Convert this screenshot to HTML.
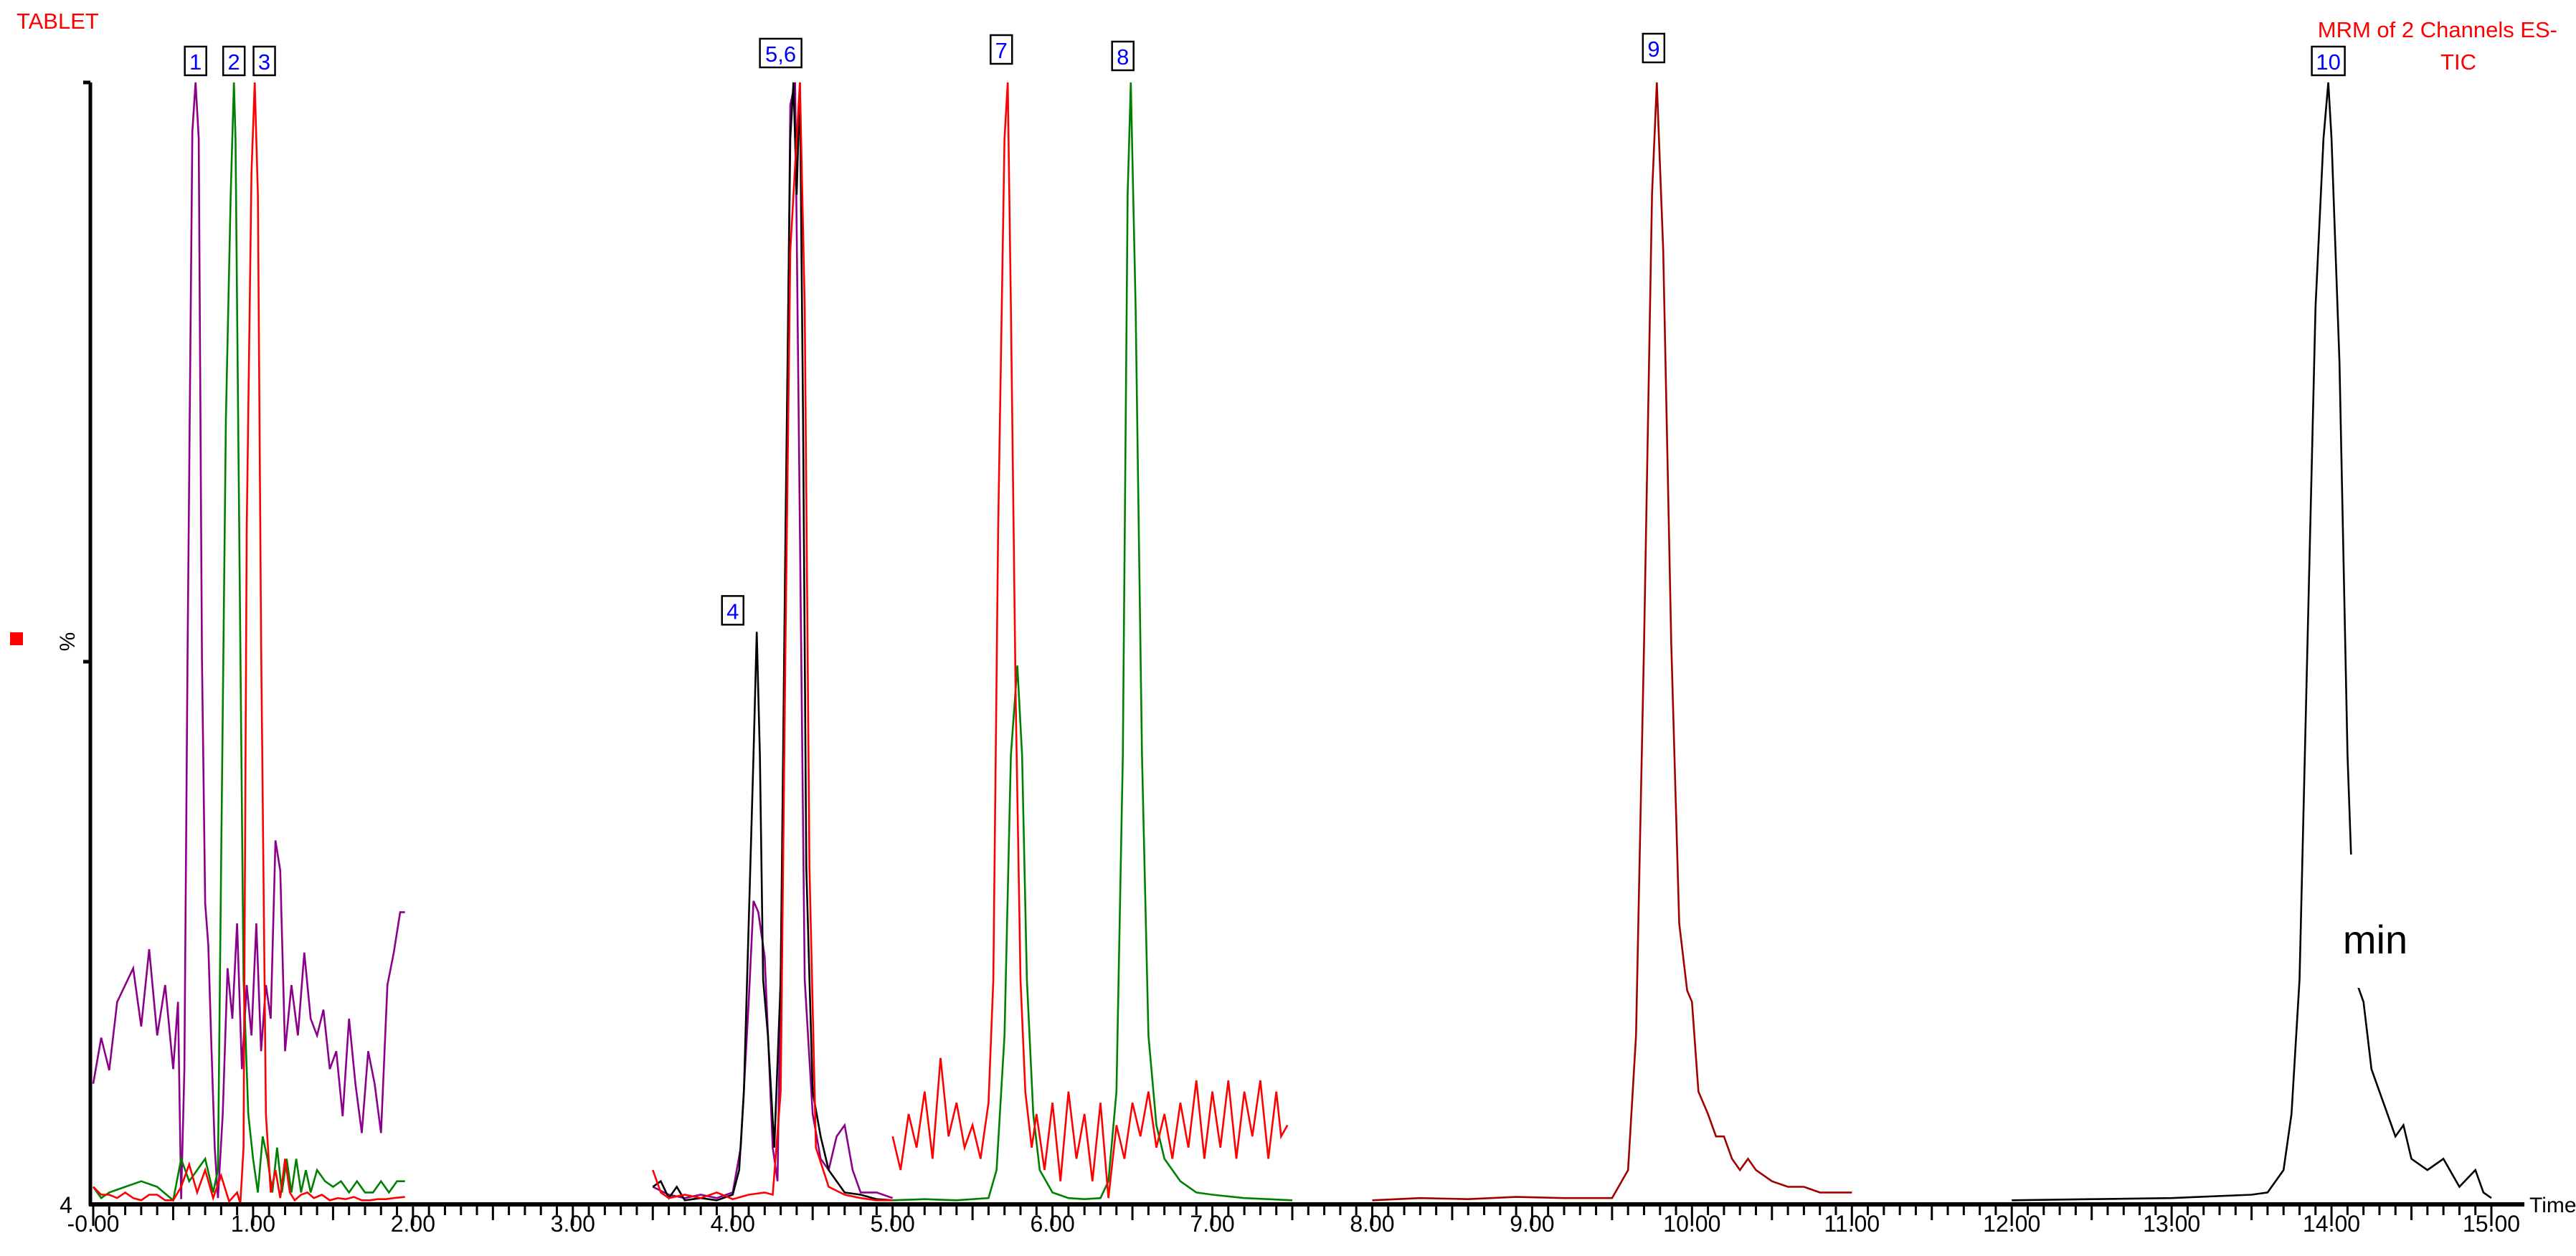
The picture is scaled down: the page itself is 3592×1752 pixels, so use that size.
<!DOCTYPE html>
<html><head><meta charset="utf-8">
<style>
html,body{margin:0;padding:0;background:#fff;}
svg{display:block;font-family:"Liberation Sans",sans-serif;}
</style></head>
<body>
<svg id="chart" width="3592" height="1752" viewBox="0 0 3592 1752">
<text x="23" y="40" font-size="31" fill="#ff0000">TABLET</text>
<text x="3566" y="52" font-size="31" fill="#ff0000" text-anchor="end">MRM of 2 Channels ES-</text>
<text x="3428" y="97" font-size="31" fill="#ff0000" text-anchor="middle">TIC</text>
<rect x="14" y="882" width="18" height="18" fill="#ff0000"/>
<text x="0" y="0" font-size="30" fill="#000" text-anchor="middle" transform="translate(104,895) rotate(-90)">%</text>
<text x="92" y="1692" font-size="32" fill="#000" text-anchor="middle">4</text>
<text x="3527" y="1691" font-size="30" fill="#000">Time</text>
<g id="series"></g>
<g id="axes"></g>
<g id="labels"></g>
<rect x="3214" y="1192" width="90" height="186" fill="#fff"/>
<text x="3312" y="1330" font-size="56" fill="#000" text-anchor="middle">min</text>
</svg>
<script>
// ---- data ----
const purpleA_t=[0.00,0.05,0.10,0.15,0.20,0.25,0.30,0.35,0.40,0.45,0.50,0.53,0.55,0.57,0.59,0.62,0.64,0.66,0.68,0.70,0.72,0.74,0.76,0.78,0.81,0.84,0.87,0.90,0.93,0.96,0.99,1.02,1.05,1.08,1.11,1.14,1.17,1.20,1.24,1.28,1.32,1.36,1.40,1.44,1.48,1.52,1.56,1.60,1.64,1.68,1.72,1.76,1.80,1.84,1.88,1.92,1.95];
const purpleA_v=[10.7,14.8,11.9,18,19.5,21,15.8,22.7,15,19.5,12,18,0.4,12,48.7,95.6,100,95,48.7,26.8,23,13.6,5,0.5,8,21,16.5,25,12,19.5,15,25,13.6,19.5,16.5,32.4,29.7,13.6,19.5,15,22.4,16.5,15,17.3,12,13.6,7.8,16.5,10.7,6.3,13.6,10.7,6.3,19.5,22.4,26,26];
const greenA_t=[0,0.05,0.1,0.2,0.3,0.4,0.5,0.55,0.6,0.65,0.7,0.75,0.78,0.8,0.83,0.86,0.88,0.89,0.90,0.92,0.94,0.97,1.0,1.03,1.06,1.09,1.12,1.15,1.18,1.21,1.24,1.27,1.3,1.33,1.36,1.4,1.45,1.5,1.55,1.6,1.65,1.7,1.75,1.8,1.85,1.9,1.95];
const greenA_v=[1.5,0.5,1,1.5,2,1.5,0.3,4,2,3,4,1,3,30,70,90,100,95,80,50,20,8,4,1,6,4,1,5,1,4,1,4,1,3,1,3,2,1.5,2,1,2,1,1,2,1,2,2];
const redA_t=[0,0.05,0.1,0.15,0.2,0.25,0.3,0.35,0.4,0.45,0.5,0.55,0.6,0.65,0.7,0.75,0.8,0.85,0.9,0.92,0.94,0.96,0.99,1.01,1.03,1.05,1.08,1.11,1.14,1.17,1.20,1.23,1.26,1.30,1.34,1.38,1.43,1.48,1.53,1.58,1.63,1.68,1.73,1.78,1.83,1.88,1.95];
const redA_v=[1.5,0.8,0.8,0.5,1,0.5,0.3,0.8,0.8,0.3,0.3,1.5,3.5,1,3,0.5,2.5,0.2,1,0,5,60,92,100,90,50,8,1,3,0.5,4,1,0.3,0.8,1,0.5,0.8,0.3,0.5,0.4,0.6,0.3,0.3,0.4,0.4,0.5,0.6];
const blackB_t=[3.5,3.55,3.6,3.65,3.7,3.8,3.9,4.0,4.04,4.07,4.10,4.13,4.15,4.17,4.19,4.22,4.26,4.3,4.33,4.36,4.38,4.4,4.42,4.44,4.46,4.5,4.55,4.6,4.65,4.7,4.8,4.9,5.0];
const blackB_v=[1.5,2,0.5,1.5,0.3,0.5,0.3,0.8,3,10,25,40,51,40,20,15,5,20,60,95,100,90,100,70,30,10,6,3,2,1,0.8,0.4,0.3];
const purpleB_t=[3.5,3.6,3.7,3.8,3.9,4.0,4.05,4.1,4.13,4.16,4.2,4.25,4.28,4.32,4.36,4.39,4.42,4.45,4.5,4.55,4.6,4.65,4.7,4.75,4.8,4.9,5.0];
const purpleB_v=[1.5,0.8,0.5,0.8,0.5,1,5,18,27,26,22,5,2,40,98,100,60,20,8,4,3,6,7,3,1,1,0.5];
const redB_t=[3.5,3.55,3.6,3.7,3.8,3.9,4.0,4.1,4.2,4.25,4.3,4.33,4.36,4.4,4.42,4.45,4.48,4.52,4.6,4.7,4.8,4.9,5.0];
const redB_v=[3,1,0.5,0.8,0.5,1,0.4,0.8,1,0.8,10,50,85,95,100,80,30,5,1.5,0.8,0.5,0.3,0.3];
const redC_t=[5.00,5.05,5.10,5.15,5.20,5.25,5.30,5.35,5.40,5.45,5.50,5.55,5.60,5.63,5.66,5.70,5.72,5.74,5.77,5.80,5.83,5.87,5.90,5.95,6.00,6.05,6.10,6.15,6.20,6.25,6.30,6.35,6.40,6.45,6.50,6.55,6.60,6.65,6.70,6.75,6.80,6.85,6.90,6.95,7.00,7.05,7.10,7.15,7.20,7.25,7.30,7.35,7.40,7.43,7.47];
const redC_v=[6,3,8,5,10,4,13,6,9,5,7,4,9,20,60,95,100,80,45,20,10,5,8,3,9,2,10,4,8,2,9,0.5,7,4,9,6,10,5,8,4,9,5,11,4,10,5,11,4,10,6,11,4,10,6,7];
const greenC_t=[5.0,5.2,5.4,5.6,5.65,5.7,5.74,5.78,5.81,5.84,5.88,5.92,6.0,6.1,6.2,6.3,6.35,6.4,6.44,6.47,6.49,6.52,6.56,6.6,6.65,6.7,6.8,6.9,7.0,7.2,7.5];
const greenC_v=[0.3,0.4,0.3,0.5,3,15,40,48,40,20,8,3,1,0.5,0.4,0.5,2,10,40,90,100,80,40,15,7,4,2,1,0.8,0.5,0.3];
const maroonD_t=[8.0,8.3,8.6,8.9,9.2,9.5,9.6,9.65,9.7,9.75,9.78,9.82,9.87,9.92,9.97,10.0,10.04,10.1,10.15,10.2,10.25,10.3,10.35,10.4,10.5,10.6,10.7,10.8,10.9,11.0];
const maroonD_v=[0.3,0.5,0.4,0.6,0.5,0.5,3,15,50,90,100,85,50,25,19,18,10,8,6,6,4,3,4,3,2,1.5,1.5,1,1,1];
const blackE_t=[12.0,12.5,13.0,13.5,13.6,13.7,13.75,13.8,13.85,13.9,13.95,13.98,14.0,14.05,14.1,14.15,14.2,14.25,14.3,14.35,14.4,14.45,14.5,14.6,14.7,14.8,14.9,14.95,15.0];
const blackE_v=[0.3,0.4,0.5,0.8,1,3,8,20,50,80,95,100,95,75,40,20,18,12,10,8,6,7,4,3,4,1.5,3,1,0.5];
const xTickLabels=["-0.00","1.00","2.00","3.00","4.00","5.00","6.00","7.00","8.00","9.00","10.00","11.00","12.00","13.00","14.00","15.00"];
const peakLabels=["1","2","3","4","5,6","7","8","9","10"];
const labelTimes=[0.64,0.88,1.07,4.00,4.30,5.68,6.44,9.76,13.98];
const labelLift=[0,0,0,0,11,16,7,18,0];
const peakHeights=[100,100,100,51,100,100,100,100,100];

// ---- scales ----
const X0=130,X1=3474,Y0=1679,Y1=115;
const xs=t=>X0+(t/15)*(X1-X0);
const ys=v=>Y0-(v/100)*(Y0-Y1);
const NS="http://www.w3.org/2000/svg";
const sg=document.getElementById('series');
function line(ts,vs,color,name){
  const p=document.createElementNS(NS,'polyline');
  p.setAttribute('points',ts.map((t,i)=>xs(t).toFixed(1)+','+ys(vs[i]).toFixed(1)).join(' '));
  p.setAttribute('fill','none');p.setAttribute('stroke',color);p.setAttribute('stroke-width','2.6');
  
  
  sg.appendChild(p);
}
line(purpleA_t,purpleA_v,'#8b008b','trace-purple-early');
line(greenA_t,greenA_v,'#008000','trace-green-early');
line(redA_t,redA_v,'#ff0000','trace-red-early');
line(purpleB_t,purpleB_v,'#8b008b','trace-purple-mid');
line(blackB_t,blackB_v,'#000000','trace-black-mid');
line(redB_t,redB_v,'#ff0000','trace-red-mid');
line(greenC_t,greenC_v,'#008000','trace-green-late');
line(redC_t,redC_v,'#ff0000','trace-red-late');
line(maroonD_t,maroonD_v,'#a00000','trace-maroon');
line(blackE_t,blackE_v,'#000000','trace-black-late');

// ---- axes ----
const ax=document.getElementById('axes');
function ln(x1,y1,x2,y2,w,name){
  const l=document.createElementNS(NS,'line');
  l.setAttribute('x1',x1);l.setAttribute('y1',y1);l.setAttribute('x2',x2);l.setAttribute('y2',y2);
  l.setAttribute('stroke','#000');l.setAttribute('stroke-width',w);
  
  
  ax.appendChild(l);
}
ln(126,Y1,126,Y0+3,5,'y-axis-line');
ln(116,Y1,126,Y1,5,'y-tick-top');
ln(116,923,126,923,5,'y-tick-mid');
ln(124,Y0+1,3520,Y0+1,6,'x-axis-line');
for(let i=0;i<=150;i++){
  const t=i/10,x=xs(t);
  const len=(i%10===0)?28:(i%5===0)?20:13;
  ln(x,Y0+3,x,Y0+3+len,3,'x-tick');
}
xTickLabels.forEach((s,i)=>{
  const tx=document.createElementNS(NS,'text');
  tx.setAttribute('x',xs(i));tx.setAttribute('y',1718);tx.setAttribute('font-size','32');
  tx.setAttribute('text-anchor','middle');tx.textContent=s;
  
  
  ax.appendChild(tx);
});

// ---- peak labels ----
const lg=document.getElementById('labels');
peakLabels.forEach((s,i)=>{
  const cx=xs(labelTimes[i]),by=ys(peakHeights[i])-10-labelLift[i];
  const w=s.length>1?(s.length>2?58:46):30,h=40;
  const r=document.createElementNS(NS,'rect');
  r.setAttribute('x',cx-w/2);r.setAttribute('y',by-h);r.setAttribute('width',w);r.setAttribute('height',h);
  r.setAttribute('fill','#fff');r.setAttribute('stroke','#000');r.setAttribute('stroke-width','2.5');
  
  
  lg.appendChild(r);
  const tx=document.createElementNS(NS,'text');
  tx.setAttribute('x',cx);tx.setAttribute('y',by-8);tx.setAttribute('font-size','31');
  tx.setAttribute('text-anchor','middle');tx.setAttribute('fill','#0000ff');tx.textContent=s;
  
  
  lg.appendChild(tx);
});
</script>
</body></html>
